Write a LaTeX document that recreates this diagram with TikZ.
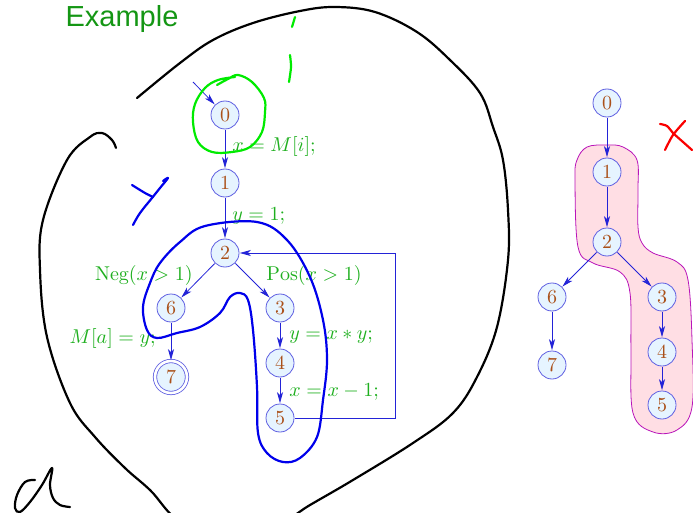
\documentclass[tikz,border=0pt]{standalone}
\usepackage{fontspec}
\newfontfamily\headfont{Liberation Sans}
\usetikzlibrary{arrows.meta}
\definecolor{nodeblue}{RGB}{95,95,225}
\definecolor{nodefill}{RGB}{230,244,255}
\definecolor{digit}{RGB}{170,80,25}
\definecolor{edgeblue}{RGB}{35,35,215}
\definecolor{labgreen}{RGB}{30,175,30}
\definecolor{titlegreen}{RGB}{20,150,20}
\definecolor{penblue}{RGB}{0,0,235}
\definecolor{pengreen}{RGB}{0,235,0}
\definecolor{penred}{RGB}{250,0,0}
\definecolor{regionfill}{RGB}{255,222,228}
\definecolor{regionline}{RGB}{185,20,185}
\tikzset{
  pnode/.style={circle,draw=nodeblue,line width=0.8pt,fill=nodefill,text=digit,minimum size=14pt,inner sep=0pt,font=\fontsize{10}{12}\selectfont,scale=2},
  fnode/.style={pnode,double=white,double distance=2.6pt,minimum size=16pt},
  flow/.style={-{Stealth[length=11pt,width=6pt,inset=3pt]},draw=edgeblue,line width=0.8pt},
  lab/.style={text=labgreen,inner sep=0pt,font=\fontsize{10}{12}\selectfont,scale=2},
  title/.style={text=titlegreen,inner sep=0pt,font=\headfont\fontsize{29}{32}\selectfont},
  region/.style={draw=regionline,fill=regionfill,line width=0.8pt},
  pen/.style={line width=2.2pt,line cap=round,line join=round}
}
\begin{document}
\begin{tikzpicture}[x=1pt,y=-1pt]
  \useasboundingbox (0,0) rectangle (693,513);
  \clip (0,0) rectangle (693,513);
  \node[title] (head) at (122,19) {Example};
  \draw[region] plot[smooth cycle,tension=0.6] coordinates {(575,180) (578,247) (593,263) (620,272) (630,293) (631,350) (633,413) (653,432) (677,430) (692,407) (692,340) (688,280) (677,262) (653,253) (642,243) (638,227) (638,190) (637,160) (623,147) (607,145) (587,147) (577,160)};
  \draw[pen,black] plot[smooth,tension=0.6] coordinates {(137,98) (180,63) (213,40) (253,23) (300,11) (335,7) (375,12) (417,32) (450,60) (480,93) (493,127) (503,160) (508,210) (508,260) (497,327) (477,377) (453,413) (413,443) (353,480) (310,505) (250,540) (185,525) (150,490) (125,468) (95,437) (70,403) (47,337) (40,270) (43,220) (67,160) (90,137) (102,133) (112,140) (116,148)};
  \node[pnode] (l0) at (225,115) {0};
  \node[pnode] (l1) at (225,183) {1};
  \node[pnode] (l2) at (225,253) {2};
  \node[pnode] (l6) at (171,308) {6};
  \node[pnode] (l3) at (280,308) {3};
  \node[fnode] (l7) at (171,377) {7};
  \node[pnode] (l4) at (280,363) {4};
  \node[pnode] (l5) at (280,418) {5};
  \coordinate (start) at (193,82); \coordinate (back) at (395,300);
  \draw[flow] (start) -- (l0); \draw[flow] (l0) -- (l1); \draw[flow] (l1) -- (l2);
  \draw[flow] (l2) -- (l6); \draw[flow] (l2) -- (l3); \draw[flow] (l6) -- (l7);
  \draw[flow] (l3) -- (l4); \draw[flow] (l4) -- (l5);
  \draw[flow] (l5) -- (l5 -| back) |- (l2);
  \node[lab,anchor=west] (t01) at (232,147) {$x = M[i];$};
  \node[lab,anchor=west] (t12) at (232,216) {$y = 1;$};
  \node[lab,anchor=east] (t26) at (193,275) {$\mathrm{Neg}(x > 1)$};
  \node[lab,anchor=west] (t23) at (266,275) {$\mathrm{Pos}(x > 1)$};
  \node[lab,anchor=east] (t67) at (156,338) {$M[a] = y;$};
  \node[lab,anchor=west] (t34) at (289,337) {$y = x * y;$};
  \node[lab,anchor=west] (t45) at (289,392) {$x = x - 1;$};
  \node[pnode] (r0) at (607,103) {0};
  \node[pnode] (r1) at (607,172) {1};
  \node[pnode] (r2) at (607,242) {2};
  \node[pnode] (r6) at (552,297) {6};
  \node[pnode] (r3) at (662,297) {3};
  \node[pnode] (r7) at (552,365) {7};
  \node[pnode] (r4) at (662,352) {4};
  \node[pnode] (r5) at (662,405) {5};
  \draw[flow] (r0) -- (r1); \draw[flow] (r1) -- (r2); \draw[flow] (r2) -- (r6);
  \draw[flow] (r2) -- (r3); \draw[flow] (r6) -- (r7); \draw[flow] (r3) -- (r4);
  \draw[flow] (r4) -- (r5);
  \draw[pen,penblue] plot[smooth cycle,tension=0.6] coordinates {(205,226) (257,222) (287,240) (310,277) (323,320) (327,360) (323,400) (317,437) (300,458) (283,462) (267,453) (258,433) (257,387) (253,330) (248,300) (240,293) (230,297) (220,313) (200,327) (177,333) (157,338) (147,330) (143,307) (150,283) (160,263) (180,242)};
  \draw[pen,penblue] plot[smooth,tension=0.6] coordinates {(132,185) (145,193) (153,197)};
  \draw[pen,penblue] plot[smooth,tension=0.6] coordinates {(163,181) (168,178) (160,188) (152,198) (140,213) (133,225)};
  \draw[pen,pengreen] plot[smooth,tension=0.6] coordinates {(217,85) (228,79) (238,75) (252,82) (264,98) (265,112) (262,132) (250,147) (232,152) (212,152) (198,142) (193,122) (195,104) (205,88) (218,80) (235,77)};
  \draw[pen,pengreen] (295,17) -- (292,27);
  \draw[pen,pengreen] plot[smooth] coordinates {(290,55) (291,67) (289,82)};
  \draw[pen,black] plot[smooth,tension=0.6] coordinates {(35,480) (25,482) (17,495) (15,508) (20,512) (30,502) (42,485) (52,468) (50,485) (53,498) (60,505) (70,507)};
  \draw[pen,penred] plot[smooth] coordinates {(660,124) (667,126) (673,133) (683,142) (692,150)};
  \draw[pen,penred] plot[smooth] coordinates {(685,121) (673,135) (665,150)};
\end{tikzpicture}
\end{document}
